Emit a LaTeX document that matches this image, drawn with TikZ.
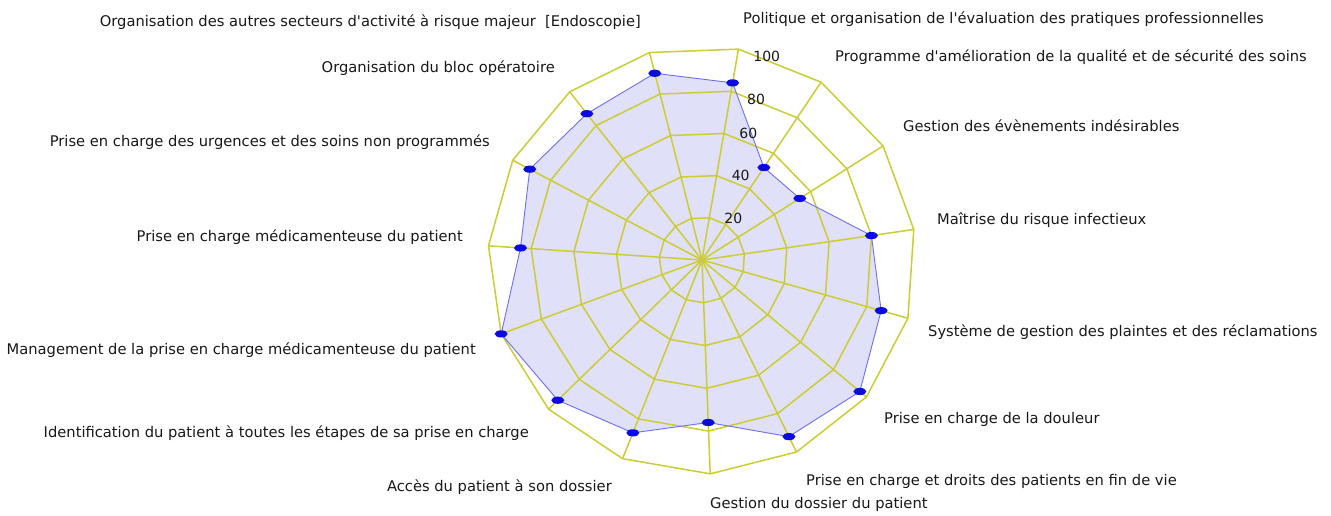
\documentclass[tikz,border=0pt]{standalone}
\usepackage{fontspec}
\setmainfont{DejaVu Sans}
\definecolor{gridcol}{RGB}{204,204,51}
\definecolor{fillcol}{RGB}{224,224,248}
\definecolor{linecol}{RGB}{110,110,245}
\definecolor{dotcol}{RGB}{10,10,225}
\definecolor{txtcol}{RGB}{25,25,25}
\begin{document}
\begin{tikzpicture}[x=1pt,y=1pt,
  gridline/.style={draw=gridcol,line width=1.5pt,line join=miter},
  lab/.style={inner sep=0pt,font=\fontsize{14.7}{16}\selectfont,text=txtcol,text height=1.5ex,text depth=0.3ex},
  tick/.style={inner sep=0pt,font=\fontsize{14}{16}\selectfont,text=txtcol}]
\useasboundingbox (0,0) rectangle (1331,516);
\fill[white] (0,0) rectangle (1331,516);
\coordinate (O) at (702,256);
% data points
\foreach \v [count=\i from 0] in {84,52,54,80,87,96,92,76,87,94,100,85,91,87,90} {
  \coordinate (d\i) at ([shift={({80.2-24*\i}:{2.14*\v})}]O);
}
\fill[fillcol] (d0) \foreach \i in {1,...,14}{ -- (d\i)} -- cycle;
% grid
\begin{scope}[shift={(O)}]
\foreach \r in {20,40,60,80,100}
  \draw[gridline] plot[samples at={0,...,14}] ({80.2-24*\x}:{2.14*\r}) -- cycle;
\foreach \i in {0,...,14}
  \draw[gridline] (0,0) -- ({80.2-24*\i}:214);
\end{scope}
% data outline and dots
\draw[linecol,line width=0.9pt] (d0) \foreach \i in {1,...,14}{ -- (d\i)} -- cycle;
\foreach \i in {0,...,14} \fill[dotcol] (d\i) ellipse (6.5 and 3.6);
% tick labels
\node[tick] (t100) at (766.7,459.3) {100};
\node[tick] (t80) at (756,416.7) {80};
\node[tick] (t60) at (748.3,382.7) {60};
\node[tick] (t40) at (740.7,340.3) {40};
\node[tick] (t20) at (733.3,297.7) {20};
% axis labels
\node[lab,anchor=west] (l0) at (743,496) {Politique et organisation de l\textquotesingle évaluation des pratiques professionnelles};
\node[lab,anchor=west] (l1) at (835,458) {Programme d\textquotesingle amélioration de la qualité et de sécurité des soins};
\node[lab,anchor=west] (l2) at (903,388) {Gestion des évènements indésirables};
\node[lab,anchor=west] (l3) at (937,295) {Maîtrise du risque infectieux};
\node[lab,anchor=west] (l4) at (928,183) {Système de gestion des plaintes et des réclamations};
\node[lab,anchor=west] (l5) at (884,96) {Prise en charge de la douleur};
\node[lab,anchor=west] (l6) at (806,34) {Prise en charge et droits des patients en fin de vie};
\node[lab,anchor=west] (l7) at (710,11) {Gestion du dossier du patient};
\node[lab,anchor=east] (l8) at (612,28) {Accès du patient à son dossier};
\node[lab,anchor=east] (l9) at (529,82) {Identification du patient à toutes les étapes de sa prise en charge};
\node[lab,anchor=east] (l10) at (476,165) {Management de la prise en charge médicamenteuse du patient};
\node[lab,anchor=east] (l11) at (463,278) {Prise en charge médicamenteuse du patient};
\node[lab,anchor=east] (l12) at (490,373) {Prise en charge des urgences et des soins non programmés};
\node[lab,anchor=east] (l13) at (555,447) {Organisation du bloc opératoire};
\node[lab,anchor=east] (l14) at (641,493) {Organisation des autres secteurs d\textquotesingle activité à risque majeur\ \ [Endoscopie]};
\end{tikzpicture}
\end{document}
